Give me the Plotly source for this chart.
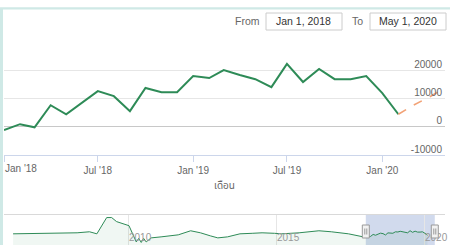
import plotly.graph_objects as go

# ---------------- data ----------------
actual_dates = [
    "2018-01-01", "2018-02-01", "2018-03-01", "2018-04-01", "2018-05-01", "2018-06-01",
    "2018-07-01", "2018-08-01", "2018-09-01", "2018-10-01", "2018-11-01", "2018-12-01",
    "2019-01-01", "2019-02-01", "2019-03-01", "2019-04-01", "2019-05-01", "2019-06-01",
    "2019-07-01", "2019-08-01", "2019-09-01", "2019-10-01", "2019-11-01", "2019-12-01",
    "2020-01-01", "2020-02-01",
]
actual_values = [
    -1200, 900, -200, 7600, 4400, 8700,
    12600, 10800, 5500, 13700, 12200, 12200,
    17900, 17200, 20000, 18300, 16800, 14000,
    22200, 15800, 20400, 16800, 16800, 17900,
    11900, 4400,
]
forecast_dates = ["2020-02-01", "2020-03-01", "2020-04-01", "2020-05-01"]
forecast_values = [4400, 7600, 10500, 13700]

# older history, only visible in the navigator strip
history_dates = [
    "2006-02-01", "2006-08-01", "2007-01-01", "2007-05-01", "2007-11-01", "2008-04-01",
    "2008-09-01", "2008-12-01", "2009-04-01", "2009-06-01", "2009-08-01", "2009-11-01",
    "2010-01-01", "2010-04-01", "2010-05-01", "2010-06-01", "2010-07-01", "2010-08-01",
    "2010-10-01", "2011-02-01", "2011-09-01", "2012-02-01", "2012-06-01", "2012-10-01",
    "2013-01-01", "2013-05-01", "2013-10-01", "2014-03-01", "2014-07-01", "2014-12-01",
    "2015-03-01", "2015-10-01", "2016-06-01", "2016-11-01", "2017-06-01", "2017-12-01",
]
history_values = [
    10000, 11000, 9000, 12000, 13000, 14000,
    18000, 10000, 74000, 74000, 58000, 50000,
    42000, -22000, -8000, -24000, -8000, -22000,
    -6000, -2000, 6000, 22000, 14000, 2000,
    -6000, -2000, 10000, 12000, 14000, 12000,
    10000, 14000, 22000, 18000, 10000, -2000,
]

x_tick_vals = ["2018-01-01", "2018-07-01", "2019-01-01", "2019-07-01", "2020-01-01"]
x_tick_text = ["", "Jul '18", "Jan '19", "Jul '19", "Jan '20"]
y_tick_vals = [-10000, 0, 10000, 20000, 30000]
y_tick_text = ["-10000", "0", "10000", "20000", ""]
nav_tick_vals = ["2010-01-01", "2015-01-01", "2020-01-01"]
nav_tick_text = ["2010", "2015", "2020"]

main_range = ["2018-01-01", "2020-05-01"]
nav_x_range = ["2005-10-12", "2020-09-04"]
nav_y_range = [-34000, 86000]

# ---------------- layout helpers (pixel -> paper) ----------------
W, H = 450, 245
ML, MR, MT, MB = 4, 5, 41, 0
PW, PH = W - ML - MR, H - MT - MB


def px(x):
    return (x - ML) / PW


def py(y):
    return (H - MB - y) / PH


FONT = "Liberation Sans, Arial, sans-serif"
GREEN = "#2e8b57"

fig = go.Figure()

# navigator fill baseline + series
nav_dates = history_dates + actual_dates
nav_values = history_values + actual_values
fig.add_trace(go.Scatter(
    x=[nav_dates[0], nav_dates[-1]], y=[nav_y_range[0], nav_y_range[0]],
    xaxis="x2", yaxis="y2", mode="lines", line=dict(width=0),
    showlegend=False, hoverinfo="skip"))
fig.add_trace(go.Scatter(
    x=nav_dates, y=nav_values, xaxis="x2", yaxis="y2", mode="lines",
    line=dict(color=GREEN, width=1), fill="tonexty",
    fillcolor="rgba(46,139,87,0.07)", showlegend=False, hoverinfo="skip"))

# main series
fig.add_trace(go.Scatter(
    x=actual_dates, y=actual_values, mode="lines",
    line=dict(color=GREEN, width=2), showlegend=False))
fig.add_trace(go.Scatter(
    x=forecast_dates, y=forecast_values, mode="lines",
    line=dict(color="#f2a276", width=1.6, dash="dash"), showlegend=False))

shapes = []
# teal frame (left strip + top line)
shapes.append(dict(type="rect", xref="paper", yref="paper",
                   x0=px(0), x1=px(3), y0=py(245), y1=py(8),
                   fillcolor="#cfe9e6", line=dict(width=0), layer="above"))
shapes.append(dict(type="rect", xref="paper", yref="paper",
                   x0=px(0), x1=px(450), y0=py(9.5), y1=py(7.3),
                   fillcolor="#cfe9e6", line=dict(width=0), layer="above"))
# range input boxes
for x0, x1 in [(266, 342), (370, 446)]:
    shapes.append(dict(type="rect", xref="paper", yref="paper",
                       x0=px(x0), x1=px(x1), y0=py(30), y1=py(13),
                       fillcolor="white", line=dict(color="#cccccc", width=1)))
# navigator top outline
shapes.append(dict(type="line", xref="paper", yref="paper",
                   x0=0, x1=1, y0=py(214.5), y1=py(214.5),
                   line=dict(color="#d9d9d9", width=1)))
# navigator selected zone
shapes.append(dict(type="rect", xref="x2", yref="y2 domain",
                   x0=main_range[0], x1=main_range[1], y0=0, y1=1,
                   fillcolor="rgba(102,133,194,0.3)", line=dict(width=0), layer="below"))
# navigator handles
for d in main_range:
    shapes.append(dict(type="rect", xref="x2", yref="paper", xsizemode="pixel", xanchor=d,
                       x0=-3.5, x1=3.5, y0=py(238), y1=py(225),
                       fillcolor="#f2f2f2", line=dict(color="#999999", width=1), layer="above"))
    for off in (-1, 1):
        shapes.append(dict(type="line", xref="x2", yref="paper", xsizemode="pixel", xanchor=d,
                           x0=off, x1=off, y0=py(234.5), y1=py(228.5),
                           line=dict(color="#999999", width=1), layer="above"))

annotations = [
    dict(text="From", x=px(247.5), y=py(21.5), xref="paper", yref="paper",
         showarrow=False, xanchor="center", yanchor="middle",
         font=dict(family=FONT, size=10.5, color="#666666")),
    dict(text="Jan 1, 2018", x=px(303.5), y=py(21.5), xref="paper", yref="paper",
         showarrow=False, xanchor="center", yanchor="middle",
         font=dict(family=FONT, size=10.5, color="#333333")),
    dict(text="To", x=px(357), y=py(21.5), xref="paper", yref="paper",
         showarrow=False, xanchor="center", yanchor="middle",
         font=dict(family=FONT, size=10.5, color="#666666")),
    dict(text="May 1, 2020", x=px(407.5), y=py(21.5), xref="paper", yref="paper",
         showarrow=False, xanchor="center", yanchor="middle",
         font=dict(family=FONT, size=10.5, color="#333333")),
    # first x tick label, kept inside the chart like Highcharts does
    dict(text="Jan '18", x=main_range[0], y=py(168), xref="x", yref="paper",
         showarrow=False, xanchor="left", yanchor="middle", xshift=-1,
         font=dict(family=FONT, size=10, color="#666666")),
]

fig.update_layout(
    width=W, height=H,
    margin=dict(l=ML, r=MR, t=MT, b=MB),
    paper_bgcolor="white", plot_bgcolor="white",
    font=dict(family=FONT, size=10, color="#666666"),
    showlegend=False,
    shapes=shapes,
    annotations=annotations,
    xaxis=dict(
        domain=[0, 1], anchor="y", range=main_range, type="date",
        tickvals=x_tick_vals, ticktext=x_tick_text,
        ticks="outside", ticklen=6, tickcolor="#ccd6eb",
        showline=True, linecolor="#ccd6eb", linewidth=1,
        showgrid=False, zeroline=False,
        tickfont=dict(family=FONT, size=10, color="#666666"),
        title=dict(text="เดือน", standoff=6,
                   font=dict(family="Noto Sans Thai, Noto Sans, DejaVu Sans, sans-serif",
                             size=10, color="#666666")),
    ),
    yaxis=dict(
        domain=[py(155), 1], anchor="x", range=[-10000, 30300],
        side="right", ticklabelposition="inside", ticklabeloverflow="allow",
        tickvals=y_tick_vals, ticktext=y_tick_text,
        ticklabelshift=-6, ticklabelstandoff=0,
        showgrid=True, gridcolor="#e6e6e6", gridwidth=1,
        zeroline=True, zerolinecolor="#c8c8c8", zerolinewidth=1,
        showline=False, ticks="",
        tickfont=dict(family=FONT, size=10, color="#666666"),
    ),
    xaxis2=dict(
        domain=[0, 1], anchor="y2", range=nav_x_range, type="date",
        tickvals=nav_tick_vals, ticktext=nav_tick_text,
        ticklabelposition="inside right", ticklabeloverflow="allow",
        ticklabelstandoff=-4,
        showgrid=True, gridcolor="#e6e6e6", ticks="", showline=False, zeroline=False,
        tickfont=dict(family=FONT, size=10, color="#999999"),
    ),
    yaxis2=dict(
        domain=[0, py(214.5)], anchor="x2", range=nav_y_range,
        showgrid=False, showticklabels=False, zeroline=False, showline=False, ticks="",
    ),
)

fig.write_html("out.html", config={"displayModeBar": False},
               post_script="document.body.style.margin='0';")
